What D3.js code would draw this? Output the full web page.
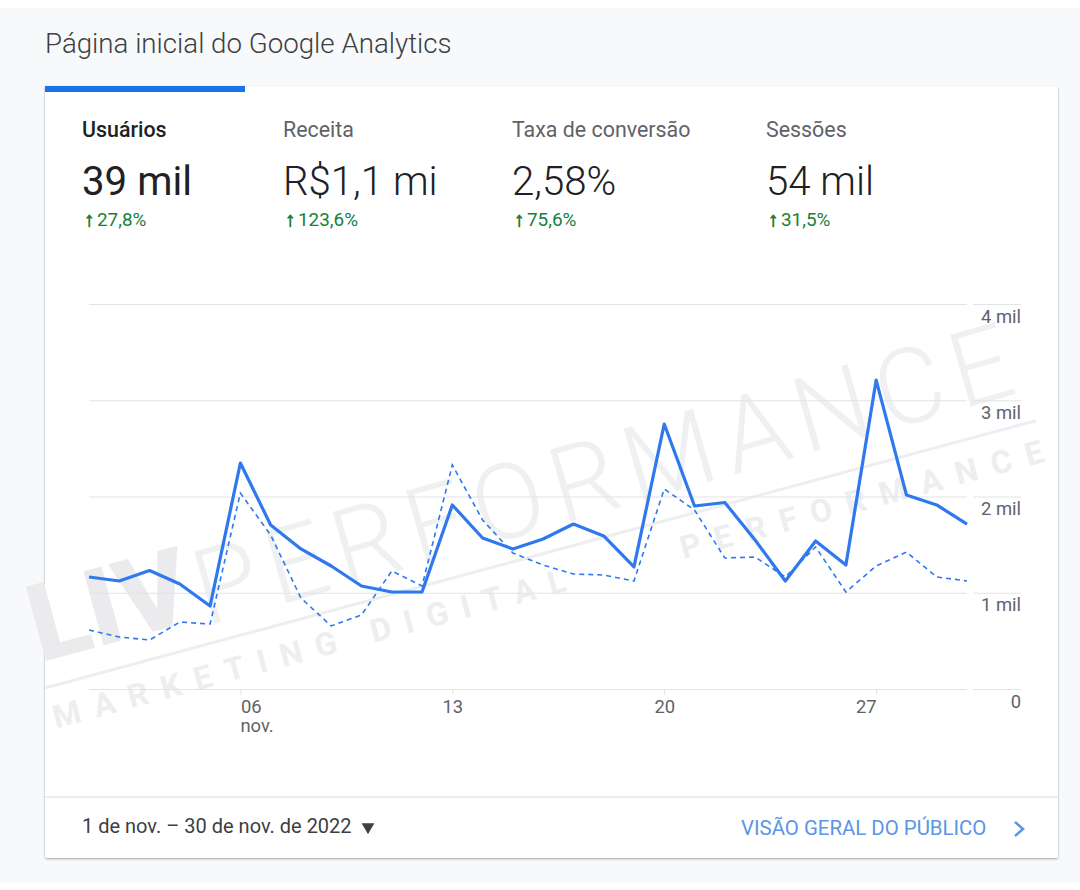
<!DOCTYPE html>
<html>
<head>
<meta charset="utf-8">
<script src="https://cdn.jsdelivr.net/npm/d3@7"></script>
<style>
  html, body { margin: 0; padding: 0; background: #fff; }
  svg { display: block; font-family: Roboto, sans-serif; }
  .yAxis path, .xAxis path { display: none; }
</style>
</head>
<body>
<div id="chart"></div>
<script>
// data
var days = d3.range(1, 31);
var usuarios = [1164, 1122, 1231, 1091, 862, 2348, 1704, 1455, 1278, 1070, 1008, 1008, 1912, 1569, 1455,
  1558, 1714, 1590, 1268, 2753, 1901, 1938, 1548, 1122, 1538, 1288, 3210, 2016, 1912, 1714];
var periodoAnterior = [613, 540, 509, 696, 675, 2036, 1600, 945, 655, 769, 1226, 1070, 2327, 1756, 1413,
  1288, 1195, 1184, 1122, 2078, 1860, 1361, 1371, 1164, 1475, 1008, 1278, 1423, 1164, 1122];
var yTicks = [0, 1000, 2000, 3000, 4000];
var yLabels = ["0", "1 mil", "2 mil", "3 mil", "4 mil"];
var xTicks = [6, 13, 20, 27];
var xLabels = ["06", "13", "20", "27"];
var metricNames = ["Usuários", "Receita", "Taxa de conversão", "Sessões"];
var metricValues = ["39 mil", "R$1,1 mi", "2,58%", "54 mil"];
var metricChanges = ["27,8%", "123,6%", "75,6%", "31,5%"];

var svgWidth = 1080;
var svgHeight = 890;
var plot = { left: 89, right: 967, top: 304, bottom: 689 };
var metricX = [82, 283, 512, 766];
var blue = "#2f78ee";

var svg = d3.select("#chart").append("svg")
  .attr("width", svgWidth)
  .attr("height", svgHeight);

// page background and card
svg.append("rect").attr("y", 8).attr("width", svgWidth).attr("height", 874).attr("fill", "#f8f9fa");

var defs = svg.append("defs");
var shadow = defs.append("filter").attr("id", "cardShadow")
  .attr("x", "-2%").attr("y", "-2%").attr("width", "104%").attr("height", "104%");
shadow.append("feDropShadow").attr("dx", 0).attr("dy", 1).attr("stdDeviation", 1.2)
  .attr("flood-color", "#000").attr("flood-opacity", 0.35);

svg.append("rect").attr("x", 45).attr("y", 86).attr("width", 1013).attr("height", 772).attr("rx", 2)
  .attr("fill", "#fff").attr("filter", "url(#cardShadow)");
svg.append("rect").attr("x", 45).attr("y", 86).attr("width", 200).attr("height", 6).attr("fill", "#1a73e8");

svg.append("text").attr("x", 45).attr("y", 53).attr("font-size", 27.7).attr("font-weight", 300)
  .attr("fill", "#3c4043").text("Página inicial do Google Analytics");

// metric tabs
metricNames.forEach(function(name, i) {
  svg.append("text").attr("x", metricX[i]).attr("y", 137).attr("font-size", 21.4)
    .attr("font-weight", i === 0 ? 500 : 400)
    .attr("fill", i === 0 ? "#202124" : "#5f6368").text(name);
  svg.append("text").attr("x", metricX[i]).attr("y", 195).attr("font-size", 40.2)
    .attr("font-weight", i === 0 ? 400 : 300)
    .attr("fill", "#202124").text(metricValues[i]);
  svg.append("text").attr("x", metricX[i] + 2).attr("y", 226).attr("font-size", 20)
    .attr("fill", "#188038").attr("stroke", "#188038").attr("stroke-width", 0.8).text("\u2191");
  svg.append("text").attr("x", metricX[i] + 15).attr("y", 226).attr("font-size", 18.9)
    .attr("fill", "#188038").text(metricChanges[i]);
});

// watermark
var mark = svg.append("g").attr("transform", "translate(45,688) rotate(-15.1)")
  .attr("fill", "#eceef0");
mark.append("text").attr("x", 2).attr("y", -26).attr("font-size", 108).attr("font-weight", 900)
  .attr("fill", "#ebebed").text("LIV");
mark.append("line").attr("x1", 0).attr("y1", 0).attr("x2", 1026).attr("y2", 0)
  .attr("stroke", "#eceef0").attr("stroke-width", 3);
mark.append("text").attr("x", 0).attr("y", 42).attr("font-size", 32).attr("font-weight", 700)
  .attr("textLength", 530).text("MARKETING DIGITAL");
mark.append("text").attr("x", 650).attr("y", 42).attr("font-size", 32).attr("font-weight", 700)
  .attr("textLength", 375).text("PERFORMANCE");
svg.append("text").attr("transform", "translate(227,620) rotate(-16)")
  .attr("x", -22).attr("y", 0).attr("font-size", 105).attr("font-weight", 300)
  .attr("fill", "#eef0f2").attr("textLength", 846).text("PERFORMANCE");

// scales
var xScale = d3.scaleLinear().domain([1, 30]).range([plot.left, plot.right]);
var yScale = d3.scaleLinear().domain([0, 4000]).range([plot.bottom, plot.top]);

// y axis on the right, labels sit under the grid lines
var yAxis = svg.append("g").attr("class", "yAxis")
  .attr("transform", "translate(" + plot.right + ",0)")
  .call(d3.axisRight(yScale).tickValues(yTicks).tickFormat(function(d, i) { return yLabels[i]; })
    .tickSize(0).tickPadding(0));
yAxis.selectAll("text")
  .attr("x", 1021 - plot.right).attr("dy", 0).attr("y", 18)
  .attr("text-anchor", "end").attr("font-size", 18.4).attr("font-family", "Roboto, sans-serif")
  .attr("fill", "#5f6368");
yAxis.selectAll(".tick").append("line")
  .attr("class", "grid").attr("x1", plot.left - plot.right).attr("x2", 0)
  .attr("stroke", "#e2e3e5").attr("stroke-width", 1.2);
yAxis.selectAll(".tick").append("line")
  .attr("class", "grid").attr("x1", 6).attr("x2", 1021 - plot.right)
  .attr("stroke", "#e2e3e5").attr("stroke-width", 1.2);

// x axis
var xAxis = svg.append("g").attr("class", "xAxis")
  .attr("transform", "translate(0," + plot.bottom + ")")
  .call(d3.axisBottom(xScale).tickValues(xTicks).tickFormat(function(d, i) { return xLabels[i]; })
    .tickSize(6).tickPadding(8));
xAxis.selectAll("line").attr("stroke", "#e2e3e5");
xAxis.selectAll("text")
  .attr("font-size", 18.4).attr("font-family", "Roboto, sans-serif").attr("fill", "#5f6368")
  .attr("y", 11)
  .attr("text-anchor", function(d) { return d === 6 ? "start" : d === 27 ? "end" : "middle"; });
svg.append("text").attr("x", xScale(6)).attr("y", 732).attr("font-size", 18.4)
  .attr("fill", "#5f6368").text("nov.");

// lines
var line = d3.line().x(function(d, i) { return xScale(days[i]); }).y(function(d) { return yScale(d); });

svg.append("path").datum(periodoAnterior)
  .attr("d", line).attr("fill", "none").attr("stroke", blue)
  .attr("stroke-width", 1.6).attr("stroke-dasharray", "5 4");
svg.append("path").datum(usuarios)
  .attr("d", line).attr("fill", "none").attr("stroke", blue)
  .attr("stroke-width", 3.2).attr("stroke-linejoin", "round");

// footer
svg.append("line").attr("x1", 45).attr("x2", 1058).attr("y1", 797).attr("y2", 797)
  .attr("stroke", "#dadce0").attr("stroke-width", 1.2);
svg.append("text").attr("x", 82).attr("y", 833).attr("font-size", 20).attr("fill", "#3c4043")
  .text("1 de nov. – 30 de nov. de 2022");
svg.append("path").attr("d", d3.symbol().type(d3.symbolTriangle).size(70))
  .attr("transform", "translate(368,827) rotate(180)").attr("fill", "#3c4043");
svg.append("text").attr("x", 741).attr("y", 835).attr("font-size", 20.4).attr("fill", "#5b95e6")
  .text("VISÃO GERAL DO PÚBLICO");
svg.append("path").attr("d", "M1015,822 L1023,829 L1015,836").attr("fill", "none")
  .attr("stroke", "#5b95e6").attr("stroke-width", 2.6);
</script>
</body>
</html>
